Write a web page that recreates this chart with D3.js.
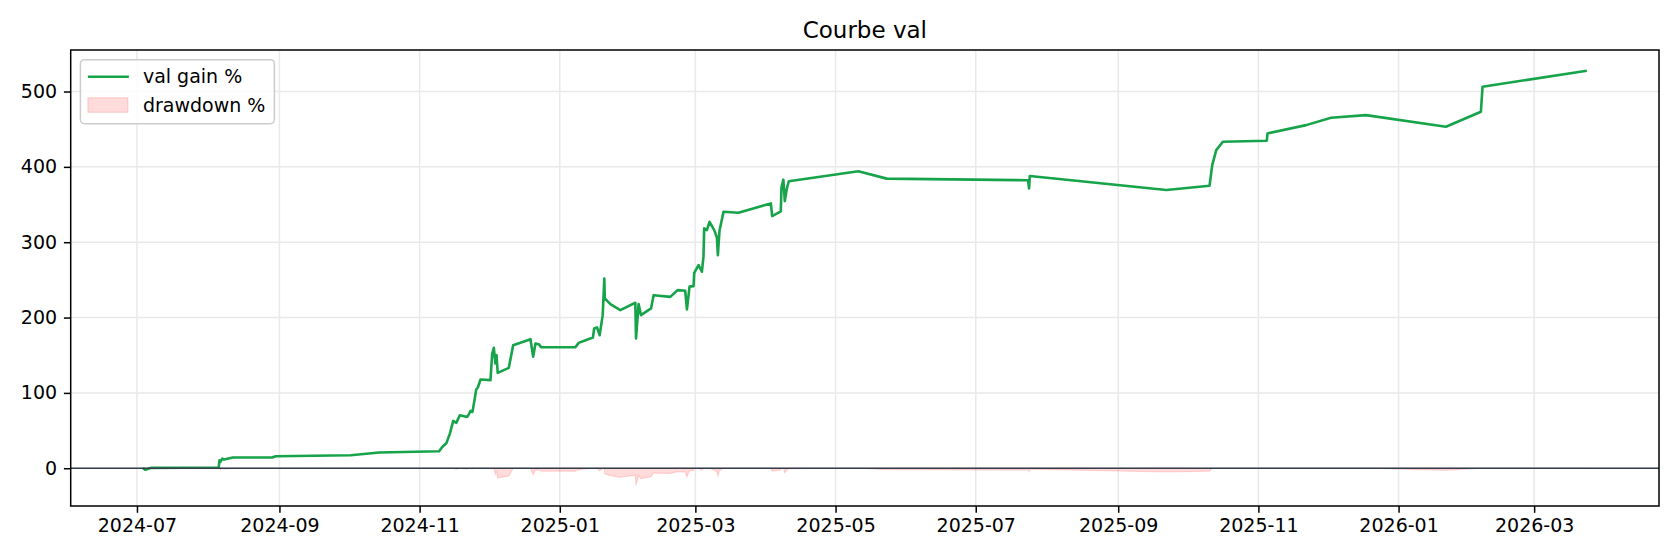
<!DOCTYPE html>
<html>
<head>
<meta charset="utf-8">
<script src="https://cdn.jsdelivr.net/npm/d3@7"></script>
<style>
  body { margin: 0; background: #fff; }
  text { font-family: "DejaVu Sans", sans-serif; }
</style>
</head>
<body>
<svg width="1680" height="560"></svg>
<script>
// data
const dates = [
  "2024-07-03 14", "2024-07-04 18", "2024-07-07 02", "2024-08-05 14", "2024-08-05 22",
  "2024-08-06 08", "2024-08-07 03", "2024-08-07 22", "2024-08-11 18", "2024-08-28 20",
  "2024-08-30 10", "2024-10-02 00", "2024-10-14 10", "2024-11-09 12", "2024-11-10 20",
  "2024-11-12 17", "2024-11-14 04", "2024-11-15 15", "2024-11-16 23", "2024-11-18 12",
  "2024-11-21 17", "2024-11-22 14", "2024-11-23 04", "2024-11-24 00", "2024-11-24 21",
  "2024-11-25 15", "2024-11-26 08", "2024-11-27 12", "2024-12-01 20", "2024-12-02 14",
  "2024-12-03 07", "2024-12-04 00", "2024-12-04 11", "2024-12-05 00", "2024-12-09 19",
  "2024-12-11 17", "2024-12-19 06", "2024-12-20 10", "2024-12-21 10", "2024-12-22 20",
  "2024-12-23 23", "2025-01-07 19", "2025-01-09 05", "2025-01-15 10", "2025-01-15 23",
  "2025-01-17 05", "2025-01-18 08", "2025-01-19 16", "2025-01-20 09", "2025-01-20 14",
  "2025-01-23 00", "2025-01-27 08", "2025-02-02 21", "2025-02-03 04", "2025-02-04 07",
  "2025-02-05 08", "2025-02-09 17", "2025-02-10 20", "2025-02-18 02", "2025-02-21 06",
  "2025-02-24 14", "2025-02-25 08", "2025-02-26 11", "2025-02-28 05", "2025-02-28 12",
  "2025-03-02 09", "2025-03-03 20", "2025-03-04 13", "2025-03-04 20", "2025-03-06 00",
  "2025-03-07 04", "2025-03-09 05", "2025-03-10 09", "2025-03-10 19", "2025-03-11 12",
  "2025-03-13 06", "2025-03-19 18", "2025-04-02 20", "2025-04-03 10", "2025-04-07 04",
  "2025-04-07 11", "2025-04-08 07", "2025-04-08 22", "2025-04-09 19", "2025-04-10 16",
  "2025-05-10 22", "2025-05-23 06", "2025-07-23 19", "2025-07-24 05", "2025-07-24 13",
  "2025-09-21 23", "2025-10-10 18", "2025-10-11 22", "2025-10-13 16", "2025-10-16 13",
  "2025-11-04 16", "2025-11-04 23", "2025-11-21 19", "2025-12-02 15", "2025-12-17 20",
  "2026-01-21 15", "2026-02-05 20", "2026-02-06 13", "2026-03-23 22"
];

const gain = [
  0, -2, 0.5, 1, 10.6,
  8.4, 12.8, 11.5, 14.2, 14.2,
  15.9, 17.3, 20.8, 22.6, 28.3,
  33.6, 46, 62.8, 60.2, 70.4,
  68.1, 72.5, 76.1, 74.8, 90.3,
  104.5, 107.2, 117.8, 116.9, 151.9,
  159.8, 139, 150.1, 126.6, 133.2,
  163.3, 171.3, 148, 165.6, 164.7,
  160.5, 160.7, 166.4, 173.6, 185.5,
  186.9, 176.6, 203.2, 251.9, 225.4,
  217.8, 209.8, 219.6, 172.3, 217.8,
  203.2, 212.1, 229.7, 227.5, 236.4,
  235.5, 210.8, 241.1, 241.7, 259.4,
  269.6, 260.8, 281.5, 318.3, 316.1,
  327.1, 316.1, 306.3, 282.9, 315.2,
  340.4, 339, 351.5, 334.7, 340.9,
  372.4, 383, 354.6, 371, 380.9,
  394.2, 384.4, 382.2, 371.3, 387.9,
  369.3, 375, 402.3, 422.3, 433.3,
  434.7, 444.4, 455.4, 465.1, 468.7,
  453.2, 473.2, 506.4, 527.6
];

const drawdown = [
  0, -2, 0, 0, 0,
  -2, 0, -1.2, 0, 0,
  0, 0, 0, 0, 0,
  0, 0, 0, -1.6, 0,
  -1.3, 0, 0, -0.7, 0,
  0, 0, 0, -0.4, 0,
  0, -8, -3.7, -12.8, -10.2,
  0, 0, -8.6, -2.1, -2.4,
  -4, -3.9, -1.8, 0, 0,
  0, -3.6, 0, 0, -7.5,
  -9.7, -12, -9.2, -22.6, -9.7,
  -13.8, -11.3, -6.3, -6.9, -4.4,
  -4.7, -11.7, -3.1, -2.9, 0,
  0, -2.4, 0, 0, -0.5,
  0, -2.6, -4.9, -10.3, -2.8,
  0, -0.3, 0, -3.7, -2.3,
  0, 0, -5.9, -2.5, -0.4,
  0, -2, -2.4, -4.6, -1.3,
  -5, -3.9, 0, 0, 0,
  0, 0, 0, 0, 0,
  -2.7, 0, 0, 0
];

const yTicks = [0, 100, 200, 300, 400, 500];
const xTickLabels = ["2024-07", "2024-09", "2024-11", "2025-01", "2025-03", "2025-05",
  "2025-07", "2025-09", "2025-11", "2026-01", "2026-03"];
const legendLabels = ["val gain %", "drawdown %"];

const width = 1680, height = 560;
const margin = { top: 50, right: 21, bottom: 54, left: 70.7 };
const green = "#16a34a";

const parse = d3.timeParse("%Y-%m-%d %H");
const rows = dates.map((d, i) => ({ t: parse(d), v: gain[i], dd: drawdown[i] }));

const svg = d3.select("svg");

// 5% margins like matplotlib
const tExt = d3.extent(rows, d => d.t);
const tPad = (tExt[1] - tExt[0]) * 0.05;
const x = d3.scaleTime()
  .domain([new Date(+tExt[0] - tPad), new Date(+tExt[1] + tPad)])
  .range([margin.left, width - margin.right]);

const yExt = d3.extent(gain.concat(drawdown));
const yPad = (yExt[1] - yExt[0]) * 0.05;
const y = d3.scaleLinear()
  .domain([yExt[0] - yPad, yExt[1] + yPad])
  .range([height - margin.bottom, margin.top]);

const xTicks = xTickLabels.map(d3.timeParse("%Y-%m"));

// grid
svg.append("g")
  .selectAll("line.vg")
  .data(xTicks)
  .enter().append("line")
  .attr("x1", d => x(d)).attr("x2", d => x(d))
  .attr("y1", margin.top).attr("y2", height - margin.bottom)
  .attr("stroke", "#e9e9e9").attr("stroke-width", 1.5);

svg.append("g")
  .selectAll("line.hg")
  .data(yTicks)
  .enter().append("line")
  .attr("x1", margin.left).attr("x2", width - margin.right)
  .attr("y1", d => y(d)).attr("y2", d => y(d))
  .attr("stroke", "#e9e9e9").attr("stroke-width", 1.5);

// drawdown area
const area = d3.area()
  .x(d => x(d.t))
  .y0(y(0))
  .y1(d => y(d.dd));

svg.append("path")
  .datum(rows)
  .attr("d", area)
  .attr("fill", "red").attr("fill-opacity", 0.14)
  .attr("stroke", "red").attr("stroke-opacity", 0.14).attr("stroke-width", 1.2);

// gain line
const line = d3.line()
  .x(d => x(d.t))
  .y(d => y(d.v));

svg.append("path")
  .datum(rows)
  .attr("d", line)
  .attr("fill", "none")
  .attr("stroke", green)
  .attr("stroke-width", 2.6)
  .attr("stroke-linejoin", "round");

// zero line
svg.append("line")
  .attr("x1", margin.left).attr("x2", width - margin.right)
  .attr("y1", y(0)).attr("y2", y(0))
  .attr("stroke", "#333d4b").attr("stroke-width", 1.6);

// axes
const xAxis = svg.append("g")
  .attr("transform", "translate(0," + (height - margin.bottom) + ")")
  .call(d3.axisBottom(x).tickValues(xTicks).tickFormat(d3.timeFormat("%Y-%m"))
    .tickSize(6.8).tickPadding(5.5).tickSizeOuter(0));

const yAxis = svg.append("g")
  .attr("transform", "translate(" + margin.left + ",0)")
  .call(d3.axisLeft(y).tickValues(yTicks).tickSize(6.8).tickPadding(6.8).tickSizeOuter(0));

[xAxis, yAxis].forEach(g => {
  g.select(".domain").remove();
  g.selectAll(".tick line").attr("stroke", "#000").attr("stroke-width", 1.5);
  g.selectAll(".tick text").attr("fill", "#000").style("font-size", "19px")
    .style("font-family", "DejaVu Sans");
});

// frame
svg.append("rect")
  .attr("x", margin.left).attr("y", margin.top)
  .attr("width", width - margin.left - margin.right)
  .attr("height", height - margin.top - margin.bottom)
  .attr("fill", "none").attr("stroke", "#000").attr("stroke-width", 1.5);

// title
svg.append("text")
  .attr("x", (margin.left + width - margin.right) / 2)
  .attr("y", 38)
  .attr("text-anchor", "middle")
  .style("font-size", "23px")
  .text("Courbe val");

// legend
const lg = svg.append("g").attr("transform", "translate(80.4,59.7)");
lg.append("rect")
  .attr("width", 194).attr("height", 64).attr("rx", 4)
  .attr("fill", "#fff").attr("fill-opacity", 0.8)
  .attr("stroke", "#cccccc").attr("stroke-width", 1.5);

lg.append("line")
  .attr("x1", 7.5).attr("x2", 48.5).attr("y1", 17).attr("y2", 17)
  .attr("stroke", green).attr("stroke-width", 2.6);
lg.append("rect")
  .attr("x", 7.5).attr("y", 38).attr("width", 40).attr("height", 14.6)
  .attr("fill", "red").attr("fill-opacity", 0.14)
  .attr("stroke", "red").attr("stroke-opacity", 0.14).attr("stroke-width", 1.2);

lg.selectAll("text.lbl")
  .data(legendLabels)
  .enter().append("text")
  .attr("x", 62.5)
  .attr("y", (d, i) => 17 + i * 28.3)
  .attr("dy", "0.35em")
  .style("font-size", "19px")
  .text(d => d);
</script>
</body>
</html>
